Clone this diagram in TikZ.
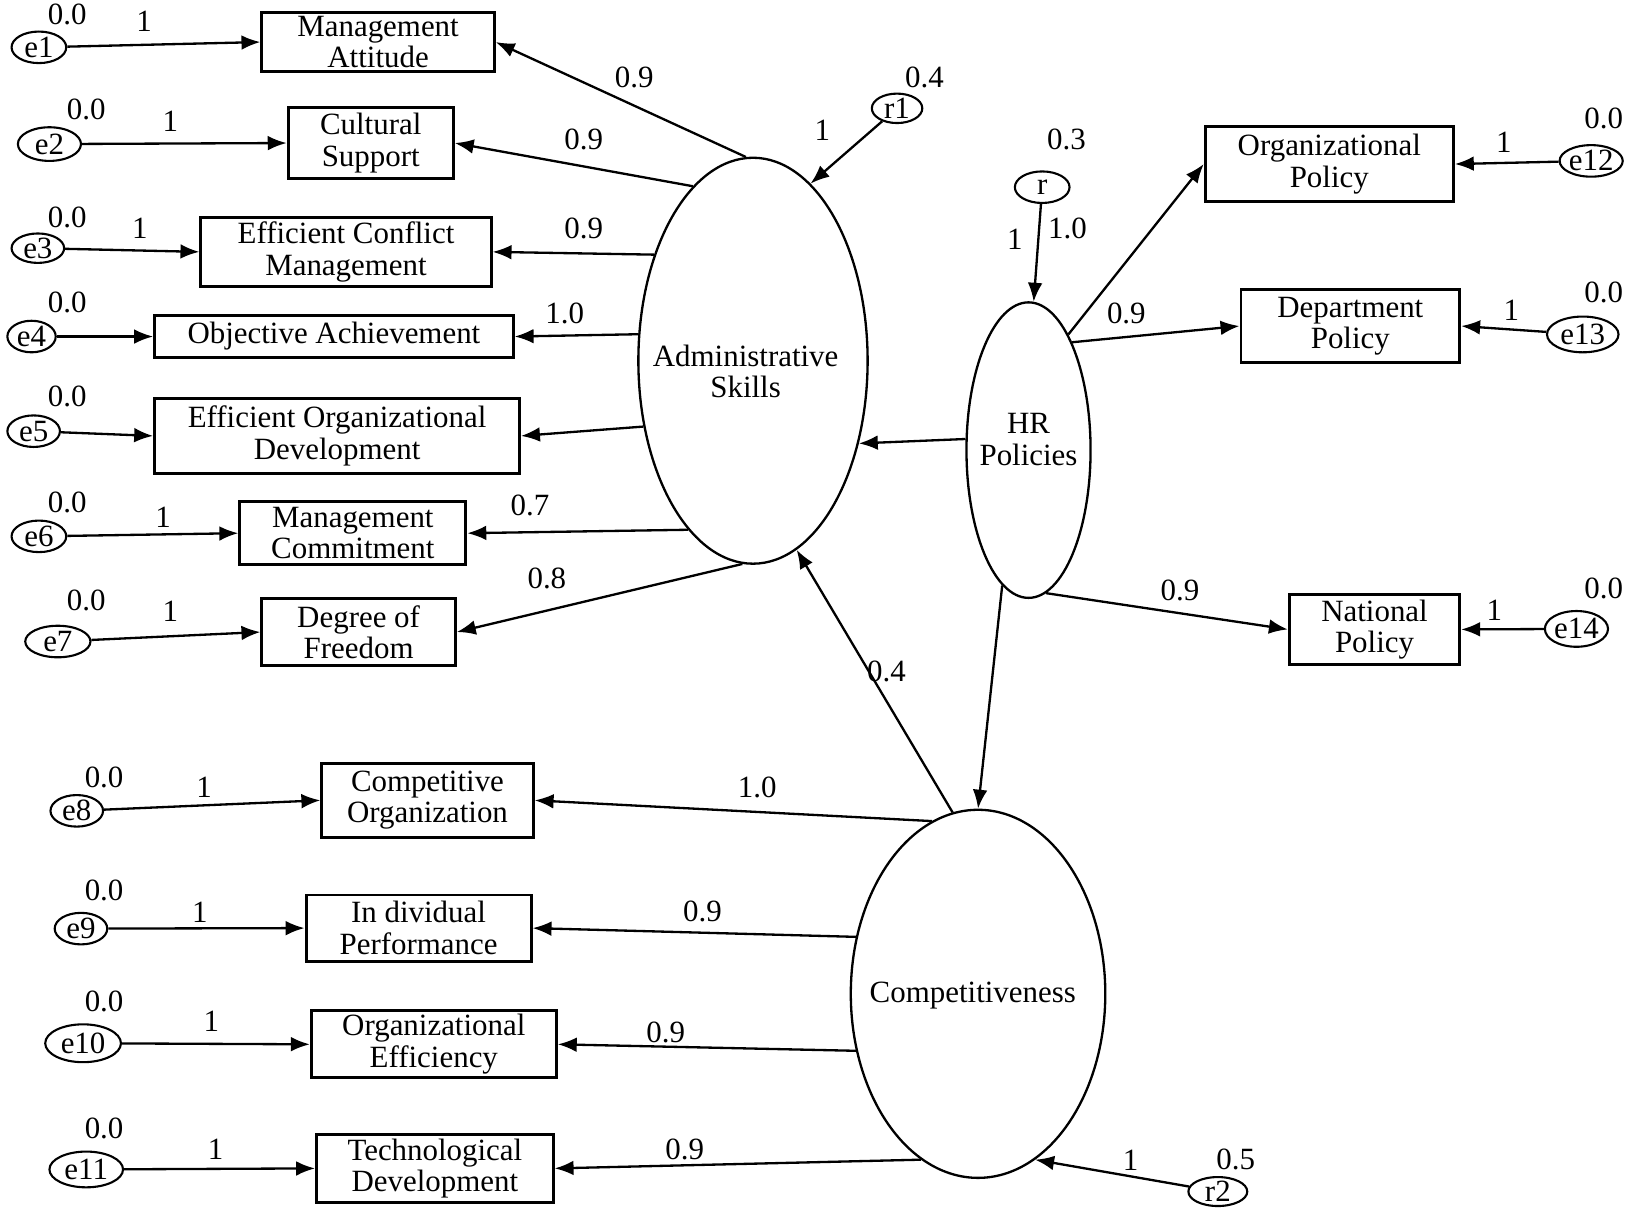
\documentclass[tikz,border=0pt]{standalone}
\usepackage{fontspec}
\setmainfont{Liberation Serif}
\usetikzlibrary{arrows.meta,shapes.geometric}
\begin{document}
\begin{tikzpicture}[x=0.5pt,y=-0.5pt,
  font=\fontsize{14.7}{15}\selectfont,
  box/.style={draw,line width=1.4pt,inner sep=0pt,align=center},
  err/.style={draw,ellipse,line width=1pt,inner sep=0pt},
  lat/.style={draw,ellipse,line width=1.1pt,inner sep=0pt},
  lbl/.style={inner sep=0pt},
  conn/.style={line width=1.1pt,-{Latex[length=9pt,width=7pt]}},
]
\useasboundingbox (0,0) rectangle (1568,1151);

% ---------- latent variables ----------
\node[lat,minimum width=109pt,minimum height=193pt] (AS) at (716,343) {};
\node[lbl,align=center] (ASt) at (709,353) {Administrative\\Skills};
\node[lat,minimum width=59pt,minimum height=140.5pt] (HR) at (978,428) {};
\node[lbl,align=center] (HRt) at (978,418) {HR\\Policies};
\node[lat,minimum width=121pt,minimum height=175pt] (CP) at (930,945) {};
\node[lbl] (CPt) at (925,947) {Competitiveness};

% ---------- indicator boxes ----------
\node[box,minimum width=110.5pt,minimum height=28pt] (MA) at (359.5,40) {Management\\Attitude};
\node[box,minimum width=78.5pt,minimum height=34pt] (CS) at (352.5,136) {Cultural\\Support};
\node[box,minimum width=138pt,minimum height=32.5pt] (ECM) at (329,239.5) {Efficient Conflict\\Management};
\node[box,minimum width=170.5pt,minimum height=20pt] (OA) at (317.5,320) {Objective Achievement};
\node[box,minimum width=173.5pt,minimum height=35.5pt] (EOD) at (320.5,414.5) {Efficient Organizational\\Development};
\node[box,minimum width=107.5pt,minimum height=30pt] (MC) at (335.5,507) {Management\\Commitment};
\node[box,minimum width=92pt,minimum height=32pt] (DF) at (341,601) {Degree of\\Freedom};
\node[box,minimum width=118pt,minimum height=36pt] (OP) at (1264,156) {Organizational\\Policy};
\node[box,minimum width=104pt,minimum height=35pt] (DP) at (1284,310) {Department\\Policy};
\node[box,minimum width=81pt,minimum height=33.5pt] (NP) at (1307,598.5) {National\\Policy};
\node[box,minimum width=100.5pt,minimum height=35pt] (CO) at (406.5,761) {Competitive\\Organization};
\node[box,minimum width=107pt,minimum height=31.5pt] (IP) at (398,882.5) {In dividual\\Performance};
\node[box,minimum width=116.5pt,minimum height=32pt] (OE) at (412.5,993) {Organizational\\Efficiency};
\node[box,minimum width=112.5pt,minimum height=32pt] (TD) at (413.5,1111) {Technological\\Development};

% ---------- error terms ----------
\node[err,minimum width=26pt,minimum height=15pt] (e1) at (37,45) {e1};
\node[err,minimum width=30pt,minimum height=16pt] (e2) at (47,137) {e2};
\node[err,minimum width=25pt,minimum height=14pt] (e3) at (36,236) {e3};
\node[err,minimum width=23pt,minimum height=15pt] (e4) at (30,320) {e4};
\node[err,minimum width=25pt,minimum height=15pt] (e5) at (32,410) {e5};
\node[err,minimum width=26pt,minimum height=15pt] (e6) at (37,510) {e6};
\node[err,minimum width=31pt,minimum height=15pt] (e7) at (55,610) {e7};
\node[err,minimum width=25pt,minimum height=15pt] (e8) at (73,771) {e8};
\node[err,minimum width=25pt,minimum height=15pt] (e9) at (77,883) {e9};
\node[err,minimum width=36pt,minimum height=18pt] (e10) at (79,992) {e10};
\node[err,minimum width=35pt,minimum height=17pt] (e11) at (82,1112) {e11};
\node[err,minimum width=29pt,minimum height=15pt] (e12) at (1513,153) {e12};
\node[err,minimum width=34pt,minimum height=17pt] (e13) at (1505,318) {e13};
\node[err,minimum width=28pt,minimum height=17pt] (e14) at (1499,598) {e14};
\node[err,minimum width=24pt,minimum height=14pt] (r1) at (853,103) {r1};
\node[err,minimum width=26pt,minimum height=15pt] (r) at (991,178) {r};
\node[err,minimum width=28pt,minimum height=13pt] (r2) at (1158,1133) {r2};

% ---------- error arrows ----------
\draw[conn] (e1) -- (MA.west);
\draw[conn] (e2) -- (CS.west);
\draw[conn] (e3) -- (ECM.west);
\draw[conn] (e4) -- (OA.west);
\draw[conn] (e5) -- (EOD.west);
\draw[conn] (e6) -- (MC.west);
\draw[conn] (e7) -- (DF.west);
\draw[conn] (e8) -- (CO.west);
\draw[conn] (e9) -- (IP.west);
\draw[conn] (e10) -- (OE.west);
\draw[conn] (e11) -- (TD.west);
\draw[conn] (e12) -- (OP.east);
\draw[conn] (e13) -- (DP.east);
\draw[conn] (e14) -- (NP.east);
\draw[conn] (r1) -- (AS.72);
\draw[conn] (r) -- (HR.88);
\draw[conn] (r2) -- (CP.-71);

% ---------- loadings ----------
\draw[conn] (AS.92) -- (MA.east);
\draw[conn] (AS.109) -- (CS.east);
\draw[conn] (AS.133) -- (ECM.east);
\draw[conn] (AS.167) -- (OA.east);
\draw[conn] (AS.-149) -- (EOD.east);
\draw[conn] (AS.-111) -- (MC.east);
\draw[conn] (AS.-93) -- (DF.east);
\draw[conn] (HR.71) -- (OP.west);
\draw[conn] (HR.68) -- (DP.west);
\draw[conn] (HR.-83) -- (NP.west);
\draw[conn] (CP.105) -- (CO.east);
\draw[conn] (CP.155) -- (IP.east);
\draw[conn] (CP.-155) -- (OE.east);
\draw[conn] (CP.-109) -- (TD.east);

% ---------- structural paths ----------
\draw[conn] (HR.170) -- (AS.-38);
\draw[conn] (HR.-101) -- (CP.90);
\draw[conn] (CP.98) -- (AS.-77);

% ---------- labels ----------
\node[lbl] (v1) at (64,14) {0.0};   \node[lbl] (w1) at (137,20) {1};
\node[lbl] (v2) at (82,104) {0.0};  \node[lbl] (w2) at (162,115) {1};
\node[lbl] (v3) at (64,207) {0.0};  \node[lbl] (w3) at (133,217) {1};
\node[lbl] (v4) at (64,288) {0.0};
\node[lbl] (v5) at (64,377) {0.0};
\node[lbl] (v6) at (64,478) {0.0};  \node[lbl] (w6) at (155,492) {1};
\node[lbl] (v7) at (82,571) {0.0};  \node[lbl] (w7) at (162,581) {1};
\node[lbl] (v8) at (99,739) {0.0};  \node[lbl] (w8) at (194,749) {1};
\node[lbl] (v9) at (99,847) {0.0};  \node[lbl] (w9) at (190,867) {1};
\node[lbl] (v10) at (99,952) {0.0}; \node[lbl] (w10) at (201,971) {1};
\node[lbl] (v11) at (99,1073) {0.0};\node[lbl] (w11) at (205,1093) {1};
\node[lbl] (v12) at (1525,113) {0.0}; \node[lbl] (w12) at (1430,135) {1};
\node[lbl] (v13) at (1525,278) {0.0}; \node[lbl] (w13) at (1437,295) {1};
\node[lbl] (v14) at (1525,560) {0.0}; \node[lbl] (w14) at (1421,580) {1};
\node[lbl] (vr1) at (879,74) {0.4};  \node[lbl] (wr1) at (782,124) {1};
\node[lbl] (vr) at (1014,133) {0.3};  \node[lbl] (wr) at (965,228) {1};
\node[lbl] (lr) at (1015,217) {1.0};
\node[lbl] (vr2) at (1175,1102) {0.5}; \node[lbl] (wr2) at (1075,1103) {1};
\node[lbl] (l1) at (603,74) {0.9};
\node[lbl] (l2) at (555,133) {0.9};
\node[lbl] (l3) at (555,217) {0.9};
\node[lbl] (l4) at (537,298) {1.0};
\node[lbl] (l6) at (504,481) {0.7};
\node[lbl] (l7) at (520,550) {0.8};
\node[lbl] (l13) at (1071,298) {0.9};
\node[lbl] (l14) at (1122,561) {0.9};
\node[lbl] (lca) at (843,638) {0.4};
\node[lbl] (l8) at (720,749) {1.0};
\node[lbl] (l9) at (668,867) {0.9};
\node[lbl] (l10) at (633,982) {0.9};
\node[lbl] (l11) at (651,1093) {0.9};
\end{tikzpicture}
\end{document}
